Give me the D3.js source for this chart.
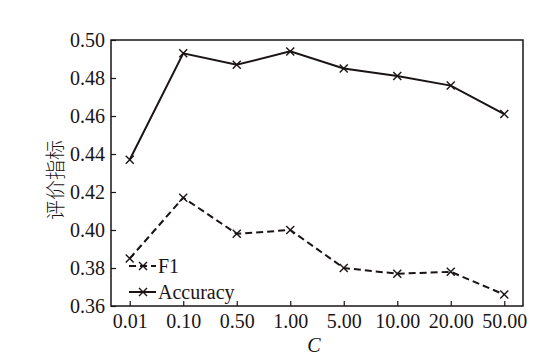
<!DOCTYPE html>
<html><head><meta charset="utf-8">
<script src="https://cdn.jsdelivr.net/npm/d3@7"></script>
<style>body{margin:0;background:#fff}svg{display:block}</style>
</head><body>
<script>
const categories = ["0.01","0.10","0.50","1.00","5.00","10.00","20.00","50.00"];
const f1 = [0.385, 0.417, 0.398, 0.400, 0.380, 0.377, 0.378, 0.366];
const accuracy = [0.437, 0.493, 0.487, 0.494, 0.485, 0.481, 0.476, 0.461];
const yTicks = [0.36, 0.38, 0.40, 0.42, 0.44, 0.46, 0.48, 0.50];
const seriesNames = ["F1", "Accuracy"];

const W = 545, H = 359;
const m = {left: 111, right: 22, top: 40, bottom: 53};
const svg = d3.select("body").append("svg").attr("width", W).attr("height", H);
const x = d3.scalePoint().domain(categories).range([m.left, W - m.right]).padding(0.35);
const y = d3.scaleLinear().domain([0.36, 0.50]).range([H - m.bottom, m.top]);
const font = "'Liberation Serif','Times New Roman',serif";
const col = "#1a1414";

// axes with inward ticks
const xa = svg.append("g").attr("transform", `translate(0,${H - m.bottom})`)
  .call(d3.axisBottom(x).tickSize(-5).tickPadding(12));
const ya = svg.append("g").attr("transform", `translate(${m.left},0)`)
  .call(d3.axisLeft(y).tickValues(yTicks).tickSize(-5).tickPadding(6).tickFormat(d3.format(".2f")));
[xa, ya].forEach(a => {
  a.select(".domain").remove();
  a.selectAll("line").attr("stroke", col).attr("stroke-width", 1.2);
  a.selectAll("text").attr("fill", col).style("font-family", font).style("font-size", "20px");
});
xa.selectAll("text").attr("y", 22).attr("dy", 0);

// frame
svg.append("rect").attr("x", m.left).attr("y", m.top)
  .attr("width", W - m.left - m.right).attr("height", H - m.top - m.bottom)
  .attr("fill", "none").attr("stroke", col).attr("stroke-width", 1.5);

const line = d3.line().x((d, i) => x(categories[i])).y(d => y(d));
const cross = (g, cx, cy) => {
  const s = 4;
  g.append("path").attr("d", `M${cx - s},${cy - s}L${cx + s},${cy + s}M${cx - s},${cy + s}L${cx + s},${cy - s}`)
    .attr("stroke", col).attr("stroke-width", 1.4).attr("fill", "none");
};
const series = [{name: seriesNames[0], vals: f1, dash: "7,4"}, {name: seriesNames[1], vals: accuracy, dash: null}];
series.forEach(s => {
  svg.append("path").datum(s.vals).attr("d", line).attr("fill", "none")
    .attr("stroke", col).attr("stroke-width", 2).attr("stroke-dasharray", s.dash);
  const g = svg.append("g");
  s.vals.forEach((v, i) => cross(g, x(categories[i]), y(v)));
});

// legend
series.forEach((s, i) => {
  const ly = 266 + i * 26;
  svg.append("line").attr("x1", 129).attr("x2", 156).attr("y1", ly).attr("y2", ly)
    .attr("stroke", col).attr("stroke-width", 2).attr("stroke-dasharray", s.dash);
  cross(svg, 143, ly);
  svg.append("text").attr("x", 158).attr("y", ly + 7).text(s.name)
    .attr("fill", col).style("font-family", font).style("font-size", "20px");
});

// axis titles
svg.append("text").attr("x", 314).attr("y", 352).attr("text-anchor", "middle").text("C")
  .attr("fill", col).style("font-family", font).style("font-size", "20px").style("font-style", "italic");
svg.append("text").attr("transform", "translate(63,180) rotate(-90)").attr("text-anchor", "middle")
  .text("评价指标").attr("fill", col).style("font-family", "'Noto Sans CJK SC',sans-serif")
  .style("font-size", "20px").style("font-weight", 300);
</script>
</body></html>
